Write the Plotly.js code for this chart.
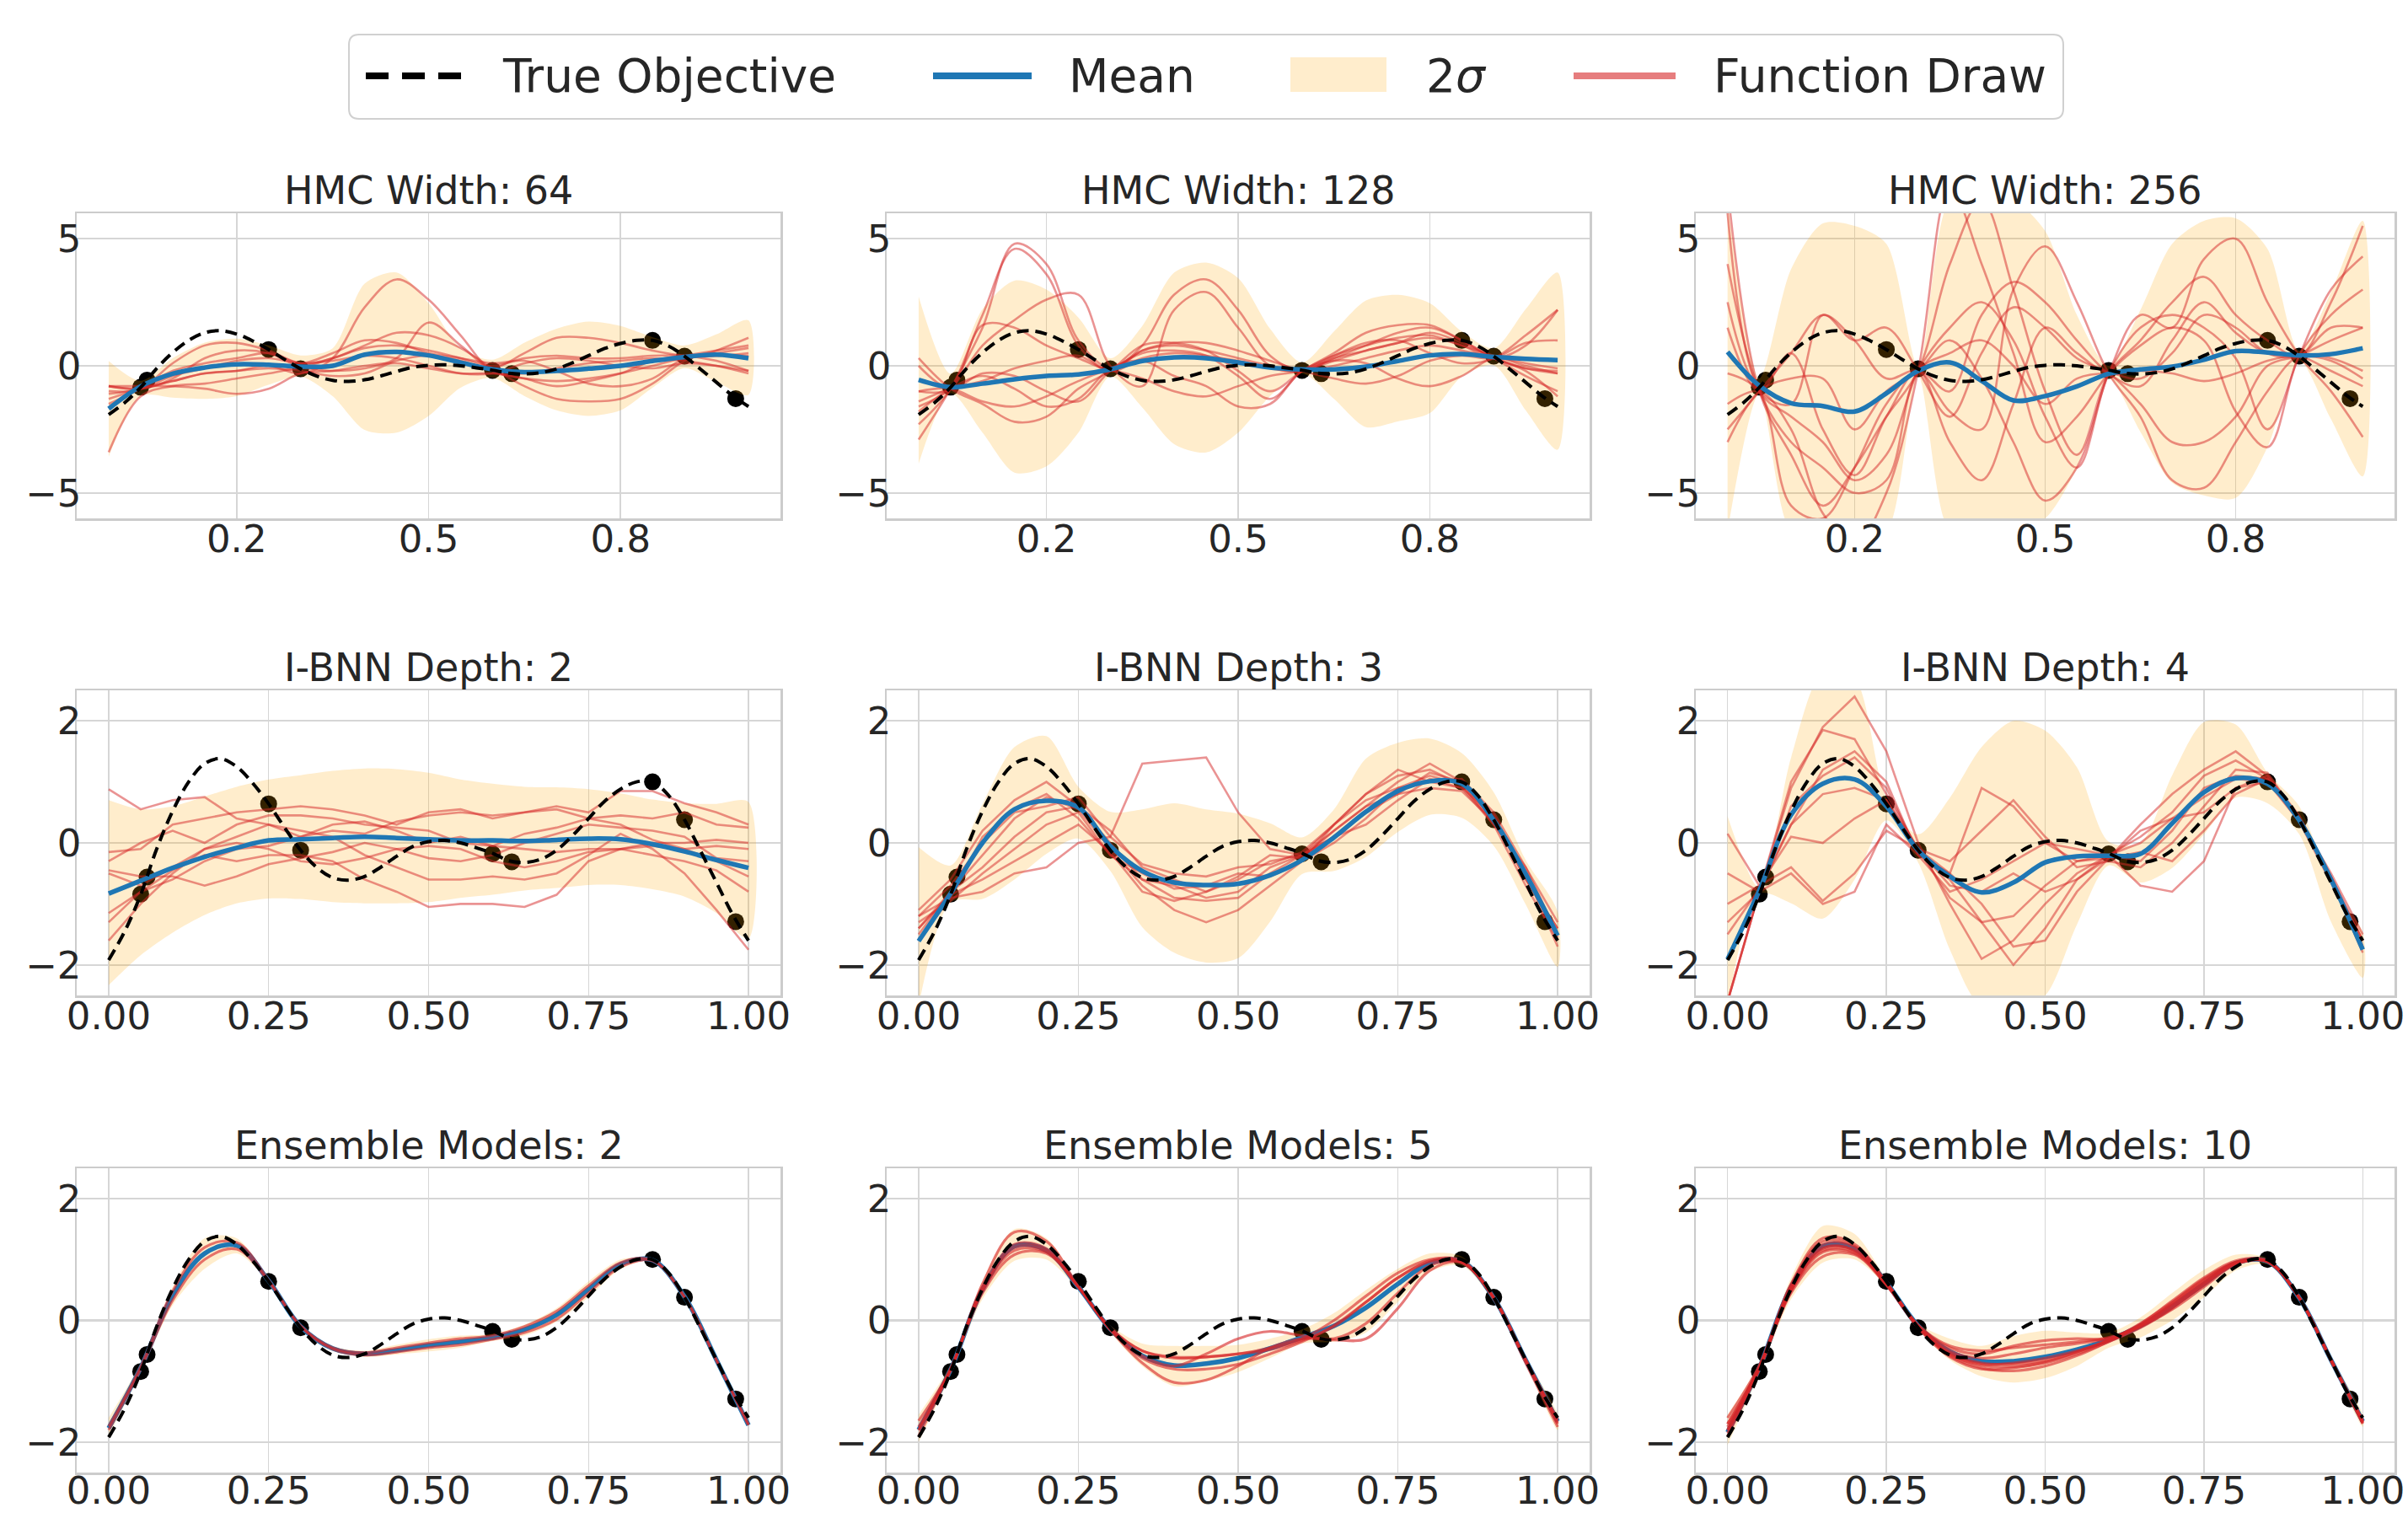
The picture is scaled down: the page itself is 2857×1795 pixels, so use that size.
<!DOCTYPE html>
<html><head><meta charset="utf-8">
<script src="https://cdn.plot.ly/plotly-3.0.1.min.js"></script>
<style>html,body{margin:0;padding:0;background:#fff;}#chart{width:2857px;height:1795px;}</style>
</head><body><div id="chart"></div>
<script>
// ---------------- DATA ----------------
const X21 = [0,0.05,0.1,0.15,0.2,0.25,0.3,0.35,0.4,0.45,0.5,0.55,0.6,0.65,0.7,0.75,0.8,0.85,0.9,0.95,1];
const X41 = [0,0.025,0.05,0.075,0.1,0.125,0.15,0.175,0.2,0.225,0.25,0.275,0.3,0.325,0.35,0.375,0.4,0.425,0.45,0.475,0.5,0.525,0.55,0.575,0.6,0.625,0.65,0.675,0.7,0.725,0.75,0.775,0.8,0.825,0.85,0.875,0.9,0.925,0.95,0.975,1];
const OBJECTIVE = [-1.92,-1.45,-0.85,-0.10,0.52,1.00,1.30,1.38,1.25,0.98,0.64,0.25,-0.12,-0.40,-0.57,-0.61,-0.55,-0.40,-0.22,-0.06,0.02,0.04,0.00,-0.08,-0.17,-0.29,-0.32,-0.27,-0.12,0.12,0.40,0.68,0.88,1.00,1.00,0.78,0.38,-0.13,-0.65,-1.17,-1.60];
const OBS_X = [0.05,0.06,0.25,0.30,0.60,0.63,0.85,0.90,0.98];
const OBS_Y = [-0.84,-0.56,0.64,-0.12,-0.18,-0.31,1.00,0.38,-1.29];

const TITLES = ['HMC Width: 64','HMC Width: 128','HMC Width: 256','I-BNN Depth: 2','I-BNN Depth: 3','I-BNN Depth: 4','Ensemble Models: 2','Ensemble Models: 5','Ensemble Models: 10'];
const LEGEND_LABELS = ['True Objective','Mean','2<i>σ</i>','Function Draw'];

const X_TICKS_TOP = [0.2,0.5,0.8];
const X_TICKTEXT_TOP = ['0.2','0.5','0.8'];
const X_TICKS = [0,0.25,0.5,0.75,1];
const X_TICKTEXT = ['0.00','0.25','0.50','0.75','1.00'];
const Y_TICKS_TOP = [-5,0,5];
const Y_TICKTEXT_TOP = ['\u22125','0','5'];
const Y_TICKS = [-2,0,2];
const Y_TICKTEXT = ['\u22122','0','2'];

// HMC width 64
const HMC64_MEAN = [-1.69,-0.81,-0.31,-0.07,0.06,0.04,-0.03,0.0,0.44,0.55,0.41,0.13,-0.14,-0.25,-0.20,-0.11,0.0,0.19,0.35,0.44,0.30];
const HMC64_UP = [0.19,-0.59,0.30,0.91,1.07,0.80,0.41,0.69,3.23,3.67,2.46,0.69,0.24,0.91,1.46,1.74,1.57,1.13,0.80,1.24,1.79];
const HMC64_LO = [-3.57,-1.19,-1.25,-1.30,-1.19,-0.75,-0.42,-1.19,-2.52,-2.63,-1.97,-0.86,-0.48,-1.19,-1.75,-1.97,-1.75,-0.86,-0.09,-0.64,-1.14];
const HMC64_DRAWS = [
 [-0.8,-0.9,-0.6,-0.3,-0.2,0.0,-0.3,0.3,2.3,3.4,2.6,1.2,-0.2,-0.3,-0.1,0.1,0.2,0.3,0.2,0.0,-0.3],
 [-3.4,-1.2,-0.8,-0.7,-0.5,-0.3,-0.1,-0.2,-0.1,0.3,1.7,0.8,-0.2,-0.5,-0.8,-0.6,-0.3,0.2,0.4,0.6,0.8],
 [-1.0,-0.9,0.1,0.8,0.9,0.6,0.1,0.3,0.8,1.3,1.2,0.7,-0.1,-0.8,-1.3,-1.4,-1.3,-0.7,0.2,0.6,1.1],
 [-0.8,-0.9,-0.5,0.3,0.6,0.5,0.0,0.3,0.7,0.8,0.6,0.3,0.0,0.3,0.4,0.3,0.3,0.4,0.4,0.2,-0.2],
 [-1.3,-0.9,-0.6,-0.3,-0.2,-0.1,-0.2,-0.4,-0.3,0.2,0.4,0.2,-0.1,0.5,1.1,1.1,0.9,0.6,0.4,0.4,0.5],
 [-0.8,-0.8,-0.8,-0.9,-1.1,-0.9,-0.3,-0.2,0.0,0.1,-0.1,-0.3,-0.3,-0.5,-0.6,-0.5,-0.3,0.0,0.3,0.4,0.4],
 [-1.1,-0.9,-0.4,-0.1,0.2,0.3,0.1,0.2,0.4,0.3,0.0,-0.3,-0.3,0.1,0.3,0.2,0.0,-0.1,0.1,0.0,-0.2],
 [-1.5,-0.9,-0.2,0.1,0.3,0.5,0.1,0.5,1.0,0.9,0.5,0.3,0.1,0.2,-0.2,-0.7,-0.8,-0.5,0.3,0.5,0.7]
];

// HMC width 128
const HMC128_MEAN = [-0.55,-0.84,-0.70,-0.53,-0.40,-0.34,-0.14,0.19,0.33,0.30,0.13,-0.07,-0.14,-0.14,-0.03,0.19,0.41,0.46,0.35,0.27,0.22];
const HMC128_UP = [2.73,-0.31,2.23,3.35,3.00,1.90,0.30,1.57,3.67,4.06,3.45,1.46,0.13,1.35,2.57,2.79,2.46,1.35,0.69,2.23,3.67];
const HMC128_LO = [-3.85,-1.08,-2.63,-4.20,-3.95,-2.63,-0.42,-1.64,-3.08,-3.41,-2.63,-1.19,-0.31,-1.30,-2.41,-2.19,-1.86,-0.42,0.02,-1.75,-3.30];
const HMC128_DRAWS = [
 [-2.3,-0.9,2.0,4.6,3.6,0.8,-0.2,0.3,0.5,0.4,0.2,-0.1,-0.2,0.4,0.8,1.1,1.2,0.8,0.4,0.1,-0.1],
 [-2.9,-0.9,1.5,4.8,4.0,1.0,-0.1,0.6,0.8,0.6,0.3,0.0,-0.2,0.0,0.3,0.6,0.8,0.6,0.3,-0.1,-0.3],
 [-1.6,-0.9,0.8,1.8,2.6,2.8,0.0,-0.8,2.2,2.9,1.5,0.0,-0.2,0.3,0.6,0.9,1.1,0.8,0.3,0.8,2.2],
 [0.3,-0.9,-1.5,-2.2,-2.0,-0.9,-0.2,0.8,0.9,0.6,-0.2,-1.0,-0.2,0.5,1.3,1.6,1.6,1.0,0.3,-0.4,-1.0],
 [0.0,-0.9,-0.3,-0.4,-1.0,-1.4,-0.2,0.5,0.6,0.4,-0.4,-1.3,-0.2,0.4,0.9,1.0,0.5,0.1,0.3,1.2,2.2],
 [-1.8,-0.9,-0.4,-0.9,-1.6,-1.3,-0.1,0.2,-0.4,-0.8,-1.6,-1.5,-0.2,0.2,0.1,-0.5,-0.8,-0.4,0.3,0.0,-0.3],
 [-1.0,-0.9,1.6,1.5,0.8,0.3,-0.1,0.8,2.8,3.4,2.2,0.4,-0.2,0.3,0.8,1.3,1.5,1.0,0.3,-0.2,-1.2],
 [-1.4,-0.9,-0.6,-0.1,0.2,0.4,-0.2,0.6,0.9,0.9,0.6,0.2,-0.2,-0.5,-0.7,-0.4,0.2,0.4,0.3,0.9,1.0],
 [-1.0,-0.9,-1.4,-1.6,-1.2,-0.6,-0.2,-0.5,-1.0,-1.2,-0.8,-0.4,-0.2,0.2,0.6,0.9,1.3,0.9,0.3,-0.1,-0.2]
];

// HMC width 256
const HMC256_MEAN = [0.55,-0.78,-1.47,-1.58,-1.80,-1.08,-0.20,0.13,-0.59,-1.36,-1.19,-0.81,-0.31,-0.14,-0.03,0.24,0.58,0.52,0.41,0.46,0.69];
const HMC256_UP = [6.5,-0.5,3.8,5.6,5.5,4.8,0.0,6.5,6.5,6.5,5.3,2.0,0.0,2.2,4.8,5.7,5.8,4.6,0.6,2.9,5.7];
const HMC256_LO = [-6.5,-1.1,-6.5,-6.5,-6.5,-6.5,-0.4,-6.5,-6.5,-6.5,-6.0,-4.0,-0.5,-2.6,-4.6,-5.1,-5.2,-3.2,0.2,-2.1,-4.35];
const HMC256_DRAWS = [
 [7.0,-1.0,-3.5,-5.5,-4.0,-2.0,-0.2,4.0,6.5,3.0,-1.0,-3.5,-0.3,1.0,2.5,3.5,2.0,1.0,0.4,2.5,5.5],
 [6.0,-1.0,-2.0,-3.0,-4.5,-3.5,-0.2,1.5,2.5,1.0,-2.0,-4.0,-0.3,1.5,2.0,1.5,0.3,-2.5,0.4,3.0,4.3],
 [2.5,-1.0,-1.5,2.0,1.0,1.5,-0.2,-2.0,0.5,2.3,1.5,0.3,-0.3,-1.5,-3.0,-3.0,-2.0,0.0,0.4,1.0,1.5],
 [-0.3,-1.0,-5.5,-6.0,-4.0,-1.5,-0.2,-1.0,2.0,3.3,2.5,1.0,-0.3,-0.8,1.0,2.5,1.3,0.5,0.4,-0.2,-0.8],
 [-2.5,-1.0,0.5,2.0,1.0,-0.5,-0.2,-1.8,-2.5,3.0,4.7,2.5,-0.3,-2.0,-4.5,-4.8,-3.0,-1.0,0.4,0.3,-0.2],
 [-3.0,-1.0,-0.5,-0.5,-2.5,-1.0,-0.2,1.0,-0.5,-3.0,-5.3,-4.0,-0.3,2.0,1.5,4.2,5.0,2.5,0.4,-1.0,-2.8],
 [4.0,-1.0,-3.0,-4.0,-5.0,-4.5,-0.2,0.5,1.0,0.0,-1.5,-0.5,-0.3,-0.5,0.5,2.0,1.5,0.5,0.4,1.5,1.5],
 [1.5,-1.0,0.5,-2.5,-4.3,-2.0,-0.2,-3.0,-4.5,-1.5,1.5,0.5,-0.3,-0.2,-0.3,-0.6,-0.3,0.2,0.4,0.2,-0.5],
 [-1.5,-1.0,-2.5,-5.8,-7.0,-5.0,-0.2,7.0,4.0,0.5,-3.0,-2.0,-0.3,0.8,1.5,1.0,-1.8,-3.2,0.4,2.0,3.0]
];

// I-BNN depth 2
const IBNN2_MEAN = [-0.83,-0.62,-0.41,-0.23,-0.08,0.04,0.06,0.08,0.10,0.08,0.06,0.04,0.04,0.03,0.05,0.07,0.06,-0.02,-0.14,-0.28,-0.41];
const IBNN2_UP = [0.70,0.55,0.60,0.76,0.92,1.04,1.11,1.18,1.22,1.21,1.15,1.04,0.97,0.92,0.91,0.88,0.81,0.71,0.65,0.64,0.67];
const IBNN2_LO = [-2.33,-1.84,-1.47,-1.18,-0.99,-0.91,-0.92,-0.97,-0.99,-0.99,-0.97,-0.90,-0.85,-0.78,-0.74,-0.69,-0.69,-0.76,-0.88,-1.15,-1.57];
const IBNN2_DRAWS = [
 [0.88,0.55,0.7,0.75,0.4,0.3,0.1,0.2,0.15,0.35,0.45,0.5,0.45,0.5,0.6,0.5,0.85,0.85,0.65,0.5,0.3],
 [-1.6,-1.0,-0.5,-0.1,0.1,0.3,0.2,0.1,-0.2,-0.4,-0.6,-0.6,-0.55,-0.6,-0.5,-0.2,0.15,-0.1,-0.5,-1.1,-1.75],
 [-1.15,-0.8,-0.45,-0.2,-0.3,-0.2,-0.2,-0.3,-0.6,-0.8,-1.05,-1.0,-1.0,-1.05,-0.85,-0.3,-0.1,0.0,0.0,0.05,0.0],
 [-0.15,-0.1,0.3,0.4,0.5,0.55,0.6,0.55,0.45,0.3,0.5,0.55,0.4,0.5,0.55,0.4,0.45,0.4,0.5,0.3,0.25],
 [-0.3,0.0,0.2,0.0,0.3,0.45,0.45,0.4,0.3,0.25,0.2,0.0,-0.05,0.15,0.25,0.4,0.3,0.05,-0.1,-0.3,-0.55],
 [-0.45,-0.55,-0.55,-0.7,-0.55,-0.35,-0.25,-0.15,0.0,-0.1,-0.05,-0.1,-0.3,-0.4,-0.3,-0.15,-0.1,-0.2,-0.3,-0.45,-0.8],
 [-1.3,-0.8,-0.6,-0.3,-0.1,-0.05,0.1,0.3,0.35,0.2,0.0,0.1,-0.05,-0.1,-0.15,-0.1,-0.1,-0.05,-0.1,-0.05,-0.1],
 [-0.5,-0.7,-0.4,-0.1,0.0,-0.1,-0.3,-0.35,-0.25,-0.1,-0.25,-0.3,-0.2,0.0,0.15,0.3,0.25,0.2,0.1,-0.25,-0.3]
];

// I-BNN depth 3
const IBNN3_MEAN = [-1.61,-0.83,0.0,0.55,0.69,0.58,-0.05,-0.46,-0.65,-0.69,-0.67,-0.53,-0.28,0.09,0.51,0.85,1.01,0.97,0.37,-0.51,-1.52];
const IBNN3_UP = [-0.07,-0.37,0.64,1.57,1.75,0.92,0.51,0.55,0.65,0.55,0.48,0.32,0.09,0.55,1.38,1.64,1.71,1.47,0.83,-0.28,-1.13];
const IBNN3_LO = [-2.67,-0.97,-0.92,-0.60,-0.18,0.07,-0.46,-1.38,-1.80,-1.96,-1.89,-1.29,-0.51,-0.46,-0.23,0.18,0.46,0.41,-0.05,-1.01,-2.03];
const IBNN3_DRAWS = [
 [-1.2,-0.9,-0.8,-0.5,-0.4,0.0,0.1,1.3,1.35,1.4,0.5,-0.1,-0.2,0.3,0.7,0.9,1.1,0.95,0.35,-0.5,-1.5],
 [-1.1,-0.6,0.2,0.7,1.0,0.6,0.0,-0.6,-0.9,-0.95,-0.9,-0.5,-0.2,0.2,0.6,1.0,1.3,1.0,0.4,-0.6,-1.4],
 [-1.4,-0.8,-0.2,0.4,0.75,0.55,-0.1,-0.7,-1.1,-1.3,-1.1,-0.7,-0.3,0.3,0.8,1.1,1.2,0.95,0.3,-0.7,-1.6],
 [-1.3,-0.95,-0.5,-0.1,0.3,0.5,-0.2,-0.6,-0.7,-0.9,-0.8,-0.4,-0.2,0.1,0.5,0.8,0.9,0.85,0.35,-0.5,-1.7],
 [-1.2,-0.7,0.0,0.5,0.6,0.75,0.1,-0.35,-0.5,-0.55,-0.4,-0.35,-0.15,0.3,0.8,1.2,1.0,0.9,0.3,-0.4,-1.3],
 [-1.6,-0.9,0.1,0.55,0.8,0.4,-0.2,-0.5,-0.75,-0.7,-0.5,-0.55,-0.3,0.0,0.4,0.9,1.0,1.05,0.5,-0.4,-1.5],
 [-1.5,-0.8,-0.4,0.1,0.5,0.6,0.2,-0.4,-0.6,-0.8,-0.55,-0.2,-0.25,0.2,0.6,0.8,1.15,1.0,0.4,-0.6,-1.4],
 [-1.4,-0.85,-0.6,-0.3,0.0,0.3,-0.15,-0.8,-0.95,-0.8,-0.6,-0.3,-0.2,0.1,0.3,0.7,1.05,0.9,0.45,-0.55,-1.55]
];

// I-BNN depth 4
const IBNN4_MEAN = [-1.91,-0.78,0.46,0.97,1.04,0.60,-0.12,-0.55,-0.81,-0.65,-0.32,-0.22,-0.21,-0.18,0.32,0.83,1.06,0.97,0.37,-0.60,-1.75];
const IBNN4_UP = [0.44,-0.74,1.40,2.80,2.70,0.74,0.14,0.74,1.57,2.00,1.84,1.24,0.02,0.00,1.11,1.98,1.94,1.15,0.60,-0.69,-1.47];
const IBNN4_LO = [-2.70,-0.83,-0.99,-1.24,-0.60,0.37,-0.32,-1.75,-2.70,-2.70,-2.50,-1.34,-0.37,-0.65,-0.41,0.14,0.74,0.65,0.14,-1.29,-2.21];
const IBNN4_DRAWS = [
 [-2.6,-0.8,0.9,1.9,2.4,1.5,0.0,-1.0,-1.9,-1.6,-1.0,-0.5,-0.2,0.1,0.5,1.1,1.35,1.05,0.4,-0.6,-1.7],
 [0.15,-0.7,-0.4,-0.95,-0.5,0.2,-0.1,-0.5,0.9,0.6,0.0,-0.3,-0.2,-0.7,-0.8,-0.3,0.9,1.0,0.4,-0.6,-1.6],
 [-1.3,-0.8,1.0,1.85,1.7,0.8,-0.1,-0.9,-1.3,-1.2,-0.7,-0.3,-0.25,0.3,0.8,1.2,1.5,1.1,0.4,-0.5,-1.5],
 [-1.0,-0.7,0.1,0.0,0.4,0.7,-0.1,-0.3,0.2,0.7,0.1,-0.4,-0.3,-0.4,0.0,0.6,1.2,1.15,0.4,-0.6,-1.8],
 [-2.6,-0.8,0.6,1.1,1.4,0.9,-0.15,-0.6,-1.3,-2.0,-1.4,-0.6,-0.2,0.0,0.4,0.75,1.05,1.0,0.35,-0.65,-1.7],
 [-1.5,-0.75,0.3,0.8,0.9,0.7,-0.1,-0.7,-0.8,-0.5,-0.8,-0.6,-0.25,0.2,0.4,0.5,0.9,1.1,0.45,-0.55,-1.6],
 [-2.6,-0.8,0.3,1.2,1.5,1.0,-0.2,-0.5,-1.0,-1.7,-1.6,-0.8,-0.25,-0.15,-0.3,0.2,0.8,1.05,0.4,-0.6,-1.6],
 [-0.5,-0.8,-0.5,-1.0,-0.8,0.3,-0.2,-0.8,-0.6,-0.3,0.0,-0.1,-0.2,-0.3,0.2,0.9,1.1,1.05,0.35,-0.55,-1.7]
];

// Ensemble 2
const ENS2_MEAN = [-1.77,-0.78,0.41,1.10,1.23,0.65,-0.10,-0.46,-0.55,-0.49,-0.41,-0.35,-0.28,-0.15,0.09,0.51,0.92,0.99,0.39,-0.65,-1.72];
const ENS2_UP = [-1.60,-0.70,0.55,1.35,1.35,0.68,-0.07,-0.42,-0.50,-0.40,-0.31,-0.25,-0.22,-0.07,0.20,0.64,1.00,1.00,0.40,-0.63,-1.69];
const ENS2_LO = [-1.90,-0.86,0.25,0.85,1.10,0.62,-0.11,-0.50,-0.60,-0.56,-0.51,-0.45,-0.34,-0.25,-0.02,0.38,0.84,0.98,0.38,-0.67,-1.73];
const ENS2_DRAWS = [
 [-1.74,-0.76,0.48,1.20,1.28,0.66,-0.09,-0.45,-0.53,-0.45,-0.37,-0.30,-0.25,-0.10,0.15,0.57,0.95,0.99,0.39,-0.65,-1.71],
 [-1.80,-0.80,0.33,1.00,1.17,0.64,-0.10,-0.47,-0.57,-0.52,-0.45,-0.40,-0.31,-0.20,0.02,0.45,0.88,0.98,0.38,-0.66,-1.72]
];

// Ensemble 5
const ENS5_MEAN = [-1.80,-0.81,0.51,1.22,1.15,0.55,-0.14,-0.58,-0.74,-0.71,-0.62,-0.46,-0.28,-0.09,0.21,0.60,0.94,0.97,0.37,-0.65,-1.66];
const ENS5_UP = [-1.55,-0.72,0.65,1.50,1.35,0.60,-0.08,-0.38,-0.42,-0.42,-0.40,-0.30,-0.15,0.12,0.50,0.85,1.10,1.05,0.42,-0.60,-1.55];
const ENS5_LO = [-2.00,-0.90,0.35,0.98,1.00,0.50,-0.20,-0.75,-1.08,-1.00,-0.85,-0.62,-0.38,-0.35,-0.20,0.30,0.80,0.90,0.30,-0.72,-1.80];
const ENS5_DRAWS = [
 [-1.65,-0.80,0.60,1.45,1.30,0.56,-0.15,-0.70,-1.02,-0.98,-0.75,-0.45,-0.30,-0.32,-0.30,0.20,0.82,0.95,0.36,-0.70,-1.75],
 [-1.80,-0.82,0.50,1.15,1.12,0.55,-0.12,-0.50,-0.60,-0.60,-0.55,-0.45,-0.30,0.00,0.40,0.78,1.00,0.98,0.38,-0.64,-1.65],
 [-1.75,-0.80,0.45,1.08,1.10,0.55,-0.15,-0.62,-0.80,-0.80,-0.72,-0.55,-0.35,-0.08,0.30,0.70,0.96,0.95,0.37,-0.66,-1.68],
 [-1.80,-0.80,0.55,1.25,1.18,0.55,-0.15,-0.58,-0.75,-0.55,-0.30,-0.18,-0.25,-0.30,-0.05,0.45,0.90,0.95,0.36,-0.66,-1.70],
 [-1.90,-0.82,0.50,1.20,1.15,0.55,-0.13,-0.50,-0.62,-0.60,-0.55,-0.48,-0.33,-0.10,0.30,0.70,0.98,0.97,0.38,-0.65,-1.62]
];

// Ensemble 10
const ENS10_MEAN = [-1.84,-0.78,0.55,1.22,1.18,0.62,-0.09,-0.51,-0.67,-0.67,-0.60,-0.48,-0.32,-0.09,0.23,0.60,0.94,0.97,0.37,-0.65,-1.66];
const ENS10_UP = [-1.55,-0.70,0.70,1.55,1.42,0.68,-0.05,-0.30,-0.42,-0.26,-0.17,-0.20,-0.20,0.05,0.45,0.83,1.08,1.02,0.42,-0.60,-1.55];
const ENS10_LO = [-2.05,-0.88,0.35,0.95,1.00,0.56,-0.15,-0.65,-0.92,-1.02,-0.95,-0.75,-0.45,-0.28,0.00,0.38,0.82,0.92,0.32,-0.70,-1.75];
const ENS10_DRAWS = [
 [-1.70,-0.76,0.60,1.35,1.25,0.63,-0.08,-0.45,-0.55,-0.42,-0.33,-0.30,-0.30,-0.08,0.25,0.62,0.95,0.97,0.37,-0.65,-1.68],
 [-1.80,-0.78,0.50,1.15,1.12,0.60,-0.10,-0.55,-0.72,-0.70,-0.62,-0.50,-0.33,-0.05,0.30,0.68,0.96,0.97,0.37,-0.65,-1.66],
 [-1.85,-0.80,0.45,1.05,1.08,0.58,-0.12,-0.60,-0.80,-0.78,-0.70,-0.55,-0.35,-0.08,0.28,0.66,0.95,0.96,0.37,-0.66,-1.68],
 [-1.60,-0.74,0.58,1.30,1.22,0.62,-0.08,-0.42,-0.50,-0.45,-0.40,-0.35,-0.28,-0.10,0.18,0.55,0.92,0.97,0.38,-0.64,-1.64],
 [-1.75,-0.78,0.52,1.20,1.15,0.60,-0.10,-0.58,-0.78,-0.83,-0.75,-0.58,-0.35,-0.12,0.20,0.60,0.93,0.97,0.37,-0.65,-1.70],
 [-1.90,-0.80,0.48,1.12,1.10,0.59,-0.11,-0.56,-0.74,-0.76,-0.68,-0.52,-0.32,-0.06,0.32,0.70,0.98,0.98,0.37,-0.66,-1.67],
 [-1.70,-0.77,0.55,1.25,1.20,0.61,-0.09,-0.50,-0.62,-0.55,-0.45,-0.38,-0.30,-0.10,0.22,0.58,0.93,0.97,0.37,-0.65,-1.66],
 [-1.80,-0.79,0.50,1.18,1.15,0.60,-0.10,-0.53,-0.70,-0.72,-0.66,-0.52,-0.33,-0.08,0.26,0.64,0.94,0.97,0.37,-0.65,-1.69]
];

// ---------------- BUILD ----------------
const W = 2857, H = 1795;
const COL_PX = [[91,926],[1052,1886],[2012,2841]];
const ROW_PX = [[253,615],[819,1181],[1386,1747]];
const X_STANDOFF = [-17,-17,-20];
const FONT = 'DejaVu Sans, Liberation Sans, sans-serif';
const TXT = '#262626';

const panels = [
  {mean:HMC64_MEAN, up:HMC64_UP, lo:HMC64_LO, draws:HMC64_DRAWS},
  {mean:HMC128_MEAN, up:HMC128_UP, lo:HMC128_LO, draws:HMC128_DRAWS},
  {mean:HMC256_MEAN, up:HMC256_UP, lo:HMC256_LO, draws:HMC256_DRAWS},
  {mean:IBNN2_MEAN, up:IBNN2_UP, lo:IBNN2_LO, draws:IBNN2_DRAWS},
  {mean:IBNN3_MEAN, up:IBNN3_UP, lo:IBNN3_LO, draws:IBNN3_DRAWS},
  {mean:IBNN4_MEAN, up:IBNN4_UP, lo:IBNN4_LO, draws:IBNN4_DRAWS},
  {mean:ENS2_MEAN, up:ENS2_UP, lo:ENS2_LO, draws:ENS2_DRAWS},
  {mean:ENS5_MEAN, up:ENS5_UP, lo:ENS5_LO, draws:ENS5_DRAWS},
  {mean:ENS10_MEAN, up:ENS10_UP, lo:ENS10_LO, draws:ENS10_DRAWS}
];

const traces = [];
const layout = {
  width: W, height: H,
  margin: {l:0, r:0, t:0, b:0, pad:0},
  paper_bgcolor: '#ffffff', plot_bgcolor: '#ffffff',
  showlegend: false,
  font: {family: FONT, color: TXT},
  annotations: [], shapes: []
};

panels.forEach((p, i) => {
  const r = Math.floor(i/3), c = i % 3;
  const suf = i === 0 ? '' : String(i+1);
  const xa = 'x' + suf, ya = 'y' + suf;
  const drawStyle = r === 2 ? {color:'rgba(214,39,40,0.62)', width:3.2} : {color:'rgba(214,39,40,0.5)', width:2.6};
  const drawShape = r === 1 ? 'linear' : 'spline';
  const common = {xaxis:xa, yaxis:ya, hoverinfo:'skip', showlegend:false, type:'scatter'};

  traces.push(Object.assign({mode:'markers', x:OBS_X, y:OBS_Y, marker:{color:'#000000', size:20, line:{width:0}}, cliponaxis:true}, common));
  traces.push(Object.assign({mode:'lines', x:X21.concat(X21.slice().reverse()), y:p.up.concat(p.lo.slice().reverse()),
    fill:'toself', fillcolor:'rgba(255,165,0,0.2)', line:{width:0, shape:'spline', smoothing:0.8}}, common));
  const meanTrace = Object.assign({mode:'lines', x:X21, y:p.mean, line:{color:'#1f77b4', width:5.5, shape:'spline', smoothing:1}}, common);
  const drawTraces = p.draws.map(d => Object.assign({mode:'lines', x:X21, y:d, line:Object.assign({shape:drawShape, smoothing:1}, drawStyle)}, common));
  if (r === 2) { traces.push(meanTrace); drawTraces.forEach(t => traces.push(t)); }
  else { drawTraces.forEach(t => traces.push(t)); traces.push(meanTrace); }
  traces.push(Object.assign({mode:'lines', x:X41, y:OBJECTIVE, line:{color:'#000000', width:4, dash:'14px,8px', shape:'spline', smoothing:1}}, common));

  const axBase = {
    showgrid:true, gridcolor:'#d6d6d6', zeroline:false,
    showline:true, mirror:true, linecolor:'#cccccc', linewidth:2.5,
    ticks:'', tickfont:{size:45, color:TXT, family:FONT}, fixedrange:true, ticklabeloverflow:'allow'
  };
  layout['xaxis'+suf] = Object.assign({}, axBase, {
    domain:[COL_PX[c][0]/W, COL_PX[c][1]/W], anchor:ya, range:[-0.05,1.05],
    tickmode:'array', tickvals: r === 0 ? X_TICKS_TOP : X_TICKS, ticktext: r === 0 ? X_TICKTEXT_TOP : X_TICKTEXT,
    gridwidth:1.5, ticklabelstandoff:X_STANDOFF[r]
  });
  layout['yaxis'+suf] = Object.assign({}, axBase, {
    domain:[1 - ROW_PX[r][1]/H, 1 - ROW_PX[r][0]/H], anchor:xa, range: r === 0 ? [-6,6] : [-2.5,2.5],
    tickmode:'array', tickvals: r === 0 ? Y_TICKS_TOP : Y_TICKS, ticktext: r === 0 ? Y_TICKTEXT_TOP : Y_TICKTEXT,
    gridwidth:2.2, ticklabelstandoff:-17
  });
  layout.annotations.push({
    text: TITLES[i], xref:'paper', yref:'paper',
    x:(COL_PX[c][0]+COL_PX[c][1])/2/W, y:1 - ROW_PX[r][0]/H,
    xanchor:'center', yanchor:'bottom', yshift:-2, showarrow:false,
    font:{size:46, color:TXT, family:FONT}
  });
});

// ---- legend (drawn in paper space) ----
const px = v => v / W, py = v => 1 - v / H;
const LB = {x0:414, y0:41, x1:2448, y1:141, r:12};
layout.shapes.push({
  type:'path', xref:'paper', yref:'paper', layer:'above',
  path: `M ${px(LB.x0+LB.r)},${py(LB.y0)} L ${px(LB.x1-LB.r)},${py(LB.y0)} Q ${px(LB.x1)},${py(LB.y0)} ${px(LB.x1)},${py(LB.y0+LB.r)} ` +
        `L ${px(LB.x1)},${py(LB.y1-LB.r)} Q ${px(LB.x1)},${py(LB.y1)} ${px(LB.x1-LB.r)},${py(LB.y1)} ` +
        `L ${px(LB.x0+LB.r)},${py(LB.y1)} Q ${px(LB.x0)},${py(LB.y1)} ${px(LB.x0)},${py(LB.y1-LB.r)} ` +
        `L ${px(LB.x0)},${py(LB.y0+LB.r)} Q ${px(LB.x0)},${py(LB.y0)} ${px(LB.x0+LB.r)},${py(LB.y0)} Z`,
  fillcolor:'rgba(255,255,255,0.9)', line:{color:'#d0d0d0', width:2}
});
const LY = 90;
layout.shapes.push({type:'line', xref:'paper', yref:'paper', layer:'above', x0:px(434), x1:px(547), y0:py(LY), y1:py(LY), line:{color:'#000000', width:8, dash:'27px,16px'}});
layout.shapes.push({type:'line', xref:'paper', yref:'paper', layer:'above', x0:px(1107), x1:px(1224), y0:py(LY), y1:py(LY), line:{color:'#1f77b4', width:8}});
layout.shapes.push({type:'rect', xref:'paper', yref:'paper', layer:'above', x0:px(1531), x1:px(1645), y0:py(109), y1:py(68), fillcolor:'rgba(255,165,0,0.2)', line:{width:0}});
layout.shapes.push({type:'line', xref:'paper', yref:'paper', layer:'above', x0:px(1867), x1:px(1988), y0:py(LY), y1:py(LY), line:{color:'rgba(214,39,40,0.6)', width:8}});
const LEG_TEXT_X = [594, 1266, 1690, 2031];
LEGEND_LABELS.forEach((t, k) => {
  layout.annotations.push({text:t, xref:'paper', yref:'paper', x:px(LEG_TEXT_X[k]), y:py(LY), xanchor:'left', yanchor:'middle',
    showarrow:false, font:{size:55, color:TXT, family:FONT}});
});

Plotly.newPlot('chart', traces, layout, {staticPlot:true, displayModeBar:false});
</script></body></html>
